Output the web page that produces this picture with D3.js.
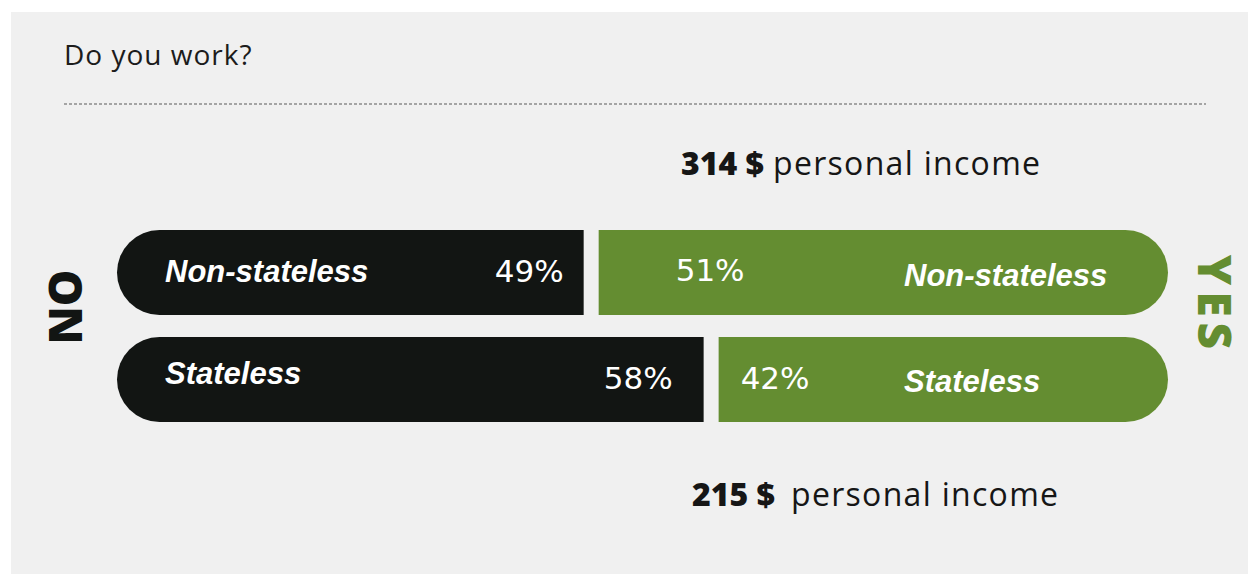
<!DOCTYPE html>
<html>
<head>
<meta charset="utf-8">
<script src="https://cdn.jsdelivr.net/npm/d3@7"></script>
<style>
  html, body { margin: 0; padding: 0; background: #fff; }
  svg { display: block; }
</style>
</head>
<body>
<script>
// data
var groups = ["Non-stateless", "Stateless"];
var noShare = [49, 58];
var yesShare = [51, 42];
var incomes = ["314 $", "215 $"];
var incomeText = "personal income";
var title = "Do you work?";

var width = 1248, height = 574,
    black = "#121513",
    green = "#648d31",
    left = 117, right = 1168,
    gap = 15;

// split point scale, fitted to the original layout
var x = d3.scaleLinear().domain([0, 100]).range([-62, 1271]);

var y = d3.scaleBand()
    .domain(groups)
    .range([230, 422])
    .paddingInner(0.206);

var svg = d3.select("body").append("svg")
    .attr("width", width)
    .attr("height", height);

svg.append("rect")
    .attr("x", 11).attr("y", 12)
    .attr("width", width - 11).attr("height", height - 12)
    .attr("fill", "#f0f0f0");

svg.append("text")
    .attr("x", 64).attr("y", 65)
    .attr("font-family", "'Open Sans', sans-serif")
    .attr("font-size", 28)
    .attr("letter-spacing", 1)
    .attr("fill", "#1c1c1c")
    .text(title);

svg.append("line")
    .attr("x1", 64).attr("x2", 1206)
    .attr("y1", 104).attr("y2", 104)
    .attr("stroke", "#8a8a8a")
    .attr("stroke-width", 1.5)
    .attr("stroke-dasharray", "3,2");

// bar with rounded outer end only
const pill = (x0, x1, y0, h, roundLeft) => {
    var r = h / 2;
    var p = d3.path();
    if (roundLeft) {
        p.moveTo(x1, y0);
        p.lineTo(x0 + r, y0);
        p.arc(x0 + r, y0 + r, r, -Math.PI / 2, Math.PI / 2, true);
        p.lineTo(x1, y0 + h);
    } else {
        p.moveTo(x0, y0);
        p.lineTo(x1 - r, y0);
        p.arc(x1 - r, y0 + r, r, -Math.PI / 2, Math.PI / 2, false);
        p.lineTo(x0, y0 + h);
    }
    p.closePath();
    return p.toString();
};

var rows = groups.map((g, i) => ({ group: g, no: noShare[i], yes: yesShare[i] }));

var noPad = [20, 31], yesPad = [77, 22];

var row = svg.selectAll(".row")
    .data(rows)
    .enter().append("g")
    .attr("class", "row");

row.append("path")
    .attr("d", d => pill(left, x(d.no) - gap / 2, y(d.group), y.bandwidth(), true))
    .attr("fill", black);

row.append("path")
    .attr("d", d => pill(x(d.no) + gap / 2, right, y(d.group), y.bandwidth(), false))
    .attr("fill", green);

var labelFont = "'Liberation Sans', Arial, sans-serif";
var pctFont = "'DejaVu Sans', sans-serif";

row.append("text")
    .attr("x", 165)
    .attr("y", (d, i) => y(d.group) + y.bandwidth() / 2 + (i ? 4 : 10))
    .attr("font-family", labelFont)
    .attr("font-weight", "bold")
    .attr("font-style", "italic")
    .attr("font-size", 31)
    .attr("fill", "#fff")
    .text(d => d.group);

row.append("text")
    .attr("x", (d, i) => x(d.no) - gap / 2 - noPad[i])
    .attr("y", (d, i) => y(d.group) + y.bandwidth() / 2 + (i ? 9 : 10))
    .attr("text-anchor", "end")
    .attr("font-family", pctFont)
    .attr("font-size", 31)
    .attr("fill", "#fff")
    .text(d => d.no + "%");

row.append("text")
    .attr("x", (d, i) => x(d.no) + gap / 2 + yesPad[i])
    .attr("y", (d, i) => y(d.group) + y.bandwidth() / 2 + 9)
    .attr("font-family", pctFont)
    .attr("font-size", 31)
    .attr("fill", "#fff")
    .text(d => d.yes + "%");

row.append("text")
    .attr("x", 904)
    .attr("y", (d, i) => y(d.group) + y.bandwidth() / 2 + (i ? 12 : 14))
    .attr("font-family", labelFont)
    .attr("font-weight", "bold")
    .attr("font-style", "italic")
    .attr("font-size", 31)
    .attr("fill", "#fff")
    .text(d => d.group);

// income labels above / below
var incomePos = [{ x: 681, y: 175 }, { x: 692, y: 506 }];
incomes.forEach((v, i) => {
    var t = svg.append("text")
        .attr("x", incomePos[i].x).attr("y", incomePos[i].y)
        .attr("font-family", "'Open Sans', sans-serif")
        .attr("font-size", 32)
        .attr("letter-spacing", 1.3)
        .attr("fill", "#161616");
    t.append("tspan").attr("font-weight", "800").attr("letter-spacing", 0).text(v);
    t.append("tspan").attr("dx", i ? 16 : 9).text(incomeText);
});

svg.append("text")
    .attr("transform", "translate(82,307) rotate(-90)")
    .attr("text-anchor", "middle")
    .attr("font-family", "'Open Sans', sans-serif")
    .attr("font-weight", "800")
    .attr("font-size", 46)
    .attr("fill", black)
    .text("NO");

svg.append("text")
    .attr("transform", "translate(1198,305) rotate(90)")
    .attr("text-anchor", "middle")
    .attr("font-family", "'Open Sans', sans-serif")
    .attr("font-weight", "800")
    .attr("font-size", 46)
    .attr("letter-spacing", 6)
    .attr("fill", green)
    .text("YES");
</script>
</body>
</html>
